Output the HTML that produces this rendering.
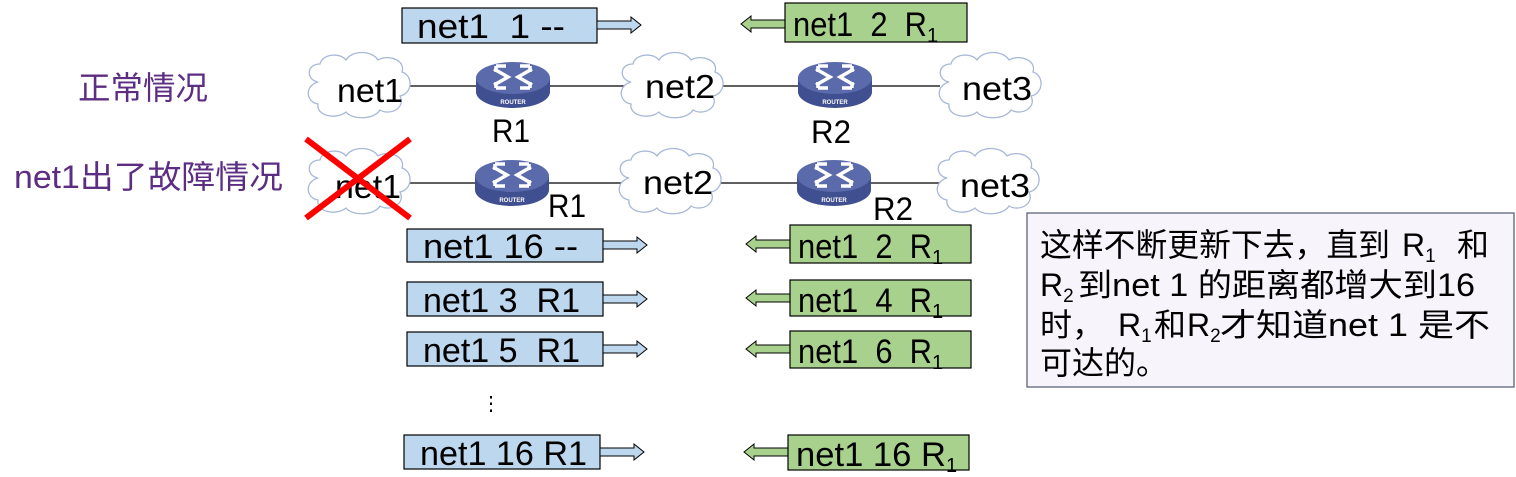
<!DOCTYPE html>
<html><head><meta charset="utf-8"><style>
html,body{margin:0;padding:0;background:#fff;}
svg{display:block;}
text{font-family:"Liberation Sans","Noto Sans CJK SC",sans-serif;}
</style></head><body>
<svg width="1516" height="477" viewBox="0 0 1516 477" xmlns="http://www.w3.org/2000/svg">
<defs>
<g id="cloud">
<path d="M12,28 C0,26 0,10 14,10 C16,0 34,-2 40,6 C46,-4 66,-4 72,6 C82,0 100,6 96,18 C108,22 106,40 94,42 C100,54 84,62 74,56 C68,66 46,66 40,58 C30,66 10,62 12,50 C0,48 -2,32 12,28 Z" fill="#fff" stroke="#a8b8d8" stroke-width="1.3"/>
</g>
<g id="router">
<path d="M0,18 L0,32 A37,16 0 0 0 74,32 L74,18 Z" fill="#3f4f8f"/>
<ellipse cx="37" cy="18" rx="37" ry="16" fill="#5a6aaa"/>
<g stroke="#fff" stroke-width="3.5" fill="none">
<path d="M18,9 L32,17 L18,25"/><path d="M56,9 L42,17 L56,25"/>
<path d="M20,6 L30,6 M20,6 L20,12"/><path d="M54,6 L44,6 M54,6 L54,12"/>
<path d="M20,28 L30,28 M20,28 L20,22"/><path d="M54,28 L44,28 M54,28 L54,22"/>
</g>
<text x="37" y="44" font-size="6" font-weight="bold" fill="#fff" text-anchor="middle">ROUTER</text>
</g>
<g id="rarrow"><path d="M0,-4 L34,-4 L34,-8 L44,0 L34,8 L34,4 L0,4 Z" fill="#bdd7ee" stroke="#000" stroke-width="1"/></g>
<g id="larrow"><path d="M0,-4 L-34,-4 L-34,-8 L-44,0 L-34,8 L-34,4 L0,4 Z" fill="#a9d18e" stroke="#000" stroke-width="1"/></g>
</defs>

<rect x="402" y="8" width="195" height="35" fill="#bdd7ee" stroke="#000" stroke-width="1.2"/>
<text x="417" y="38" font-size="34" textLength="148" lengthAdjust="spacingAndGlyphs">net1&#160;&#160;1 --</text>
<use href="#rarrow" x="597" y="25"/>
<use href="#larrow" x="785" y="24"/>
<rect x="785" y="3" width="182" height="39" fill="#a9d18e" stroke="#000" stroke-width="1.2"/>
<text x="793" y="36" font-size="34"><tspan textLength="134" lengthAdjust="spacingAndGlyphs">net1&#160;&#160;2&#160;&#160;R</tspan><tspan font-size="20" dy="6">1</tspan></text>

<text x="78" y="99" font-size="32" fill="#5c2d82" textLength="130" lengthAdjust="spacingAndGlyphs">正常情况</text>
<text x="14" y="188" font-size="32" fill="#5c2d82" textLength="269" lengthAdjust="spacingAndGlyphs">net1出了故障情况</text>

<line x1="405" y1="86" x2="940" y2="86" stroke="#000" stroke-width="1.2"/>
<use href="#cloud" x="306" y="54"/>
<text x="337" y="102" font-size="33" textLength="66" lengthAdjust="spacingAndGlyphs">net1</text>
<use href="#router" x="476" y="60"/>
<text x="492" y="142" font-size="32" textLength="38" lengthAdjust="spacingAndGlyphs">R1</text>
<use href="#cloud" x="619" y="54"/>
<text x="645" y="98" font-size="33" textLength="70" lengthAdjust="spacingAndGlyphs">net2</text>
<use href="#router" x="798" y="60"/>
<text x="811" y="143" font-size="32" textLength="40" lengthAdjust="spacingAndGlyphs">R2</text>
<use href="#cloud" x="937" y="54"/>
<text x="962" y="100" font-size="33" textLength="70" lengthAdjust="spacingAndGlyphs">net3</text>

<line x1="405" y1="183" x2="940" y2="183" stroke="#000" stroke-width="1.2"/>
<use href="#cloud" x="306" y="150"/>
<text x="335" y="198" font-size="33" textLength="66" lengthAdjust="spacingAndGlyphs">net1</text>
<use href="#router" x="475" y="158"/>
<text x="548" y="217" font-size="32" textLength="38" lengthAdjust="spacingAndGlyphs">R1</text>
<use href="#cloud" x="617" y="150"/>
<text x="643" y="194" font-size="33" textLength="70" lengthAdjust="spacingAndGlyphs">net2</text>
<use href="#router" x="797" y="158"/>
<text x="873" y="220" font-size="32" textLength="40" lengthAdjust="spacingAndGlyphs">R2</text>
<use href="#cloud" x="935" y="150"/>
<text x="960" y="197" font-size="33" textLength="70" lengthAdjust="spacingAndGlyphs">net3</text>
<g stroke="#ff0000" stroke-width="6">
<line x1="306" y1="139" x2="410" y2="218"/><line x1="410" y1="139" x2="306" y2="218"/>
</g>

<g font-size="34">
<rect x="407" y="229" width="196" height="33" fill="#bdd7ee" stroke="#000" stroke-width="1.2"/>
<text x="423" y="258" textLength="155" lengthAdjust="spacingAndGlyphs">net1 16 --</text>
<use href="#rarrow" x="603" y="245"/>
<rect x="407" y="282" width="196" height="34" fill="#bdd7ee" stroke="#000" stroke-width="1.2"/>
<text x="423" y="312" textLength="157" lengthAdjust="spacingAndGlyphs">net1 3&#160;&#160;R1</text>
<use href="#rarrow" x="603" y="299"/>
<rect x="407" y="332" width="196" height="34" fill="#bdd7ee" stroke="#000" stroke-width="1.2"/>
<text x="423" y="362" textLength="157" lengthAdjust="spacingAndGlyphs">net1 5&#160;&#160;R1</text>
<use href="#rarrow" x="603" y="349"/>
<rect x="404" y="435" width="196" height="34" fill="#bdd7ee" stroke="#000" stroke-width="1.2"/>
<text x="420" y="465" textLength="167" lengthAdjust="spacingAndGlyphs">net1&#160;16 R1</text>
<use href="#rarrow" x="600" y="452"/>
<text x="481" y="410" font-size="20">⋮</text>

<use href="#larrow" x="790" y="244"/>
<rect x="790" y="225" width="181" height="38" fill="#a9d18e" stroke="#000" stroke-width="1.2"/>
<text x="798" y="258"><tspan textLength="134" lengthAdjust="spacingAndGlyphs">net1&#160;&#160;2&#160;&#160;R</tspan><tspan font-size="20" dy="6">1</tspan></text>
<use href="#larrow" x="790" y="298"/>
<rect x="790" y="280" width="181" height="36" fill="#a9d18e" stroke="#000" stroke-width="1.2"/>
<text x="798" y="312"><tspan textLength="134" lengthAdjust="spacingAndGlyphs">net1&#160;&#160;4&#160;&#160;R</tspan><tspan font-size="20" dy="6">1</tspan></text>
<use href="#larrow" x="790" y="349"/>
<rect x="790" y="331" width="181" height="37" fill="#a9d18e" stroke="#000" stroke-width="1.2"/>
<text x="798" y="363"><tspan textLength="134" lengthAdjust="spacingAndGlyphs">net1&#160;&#160;6&#160;&#160;R</tspan><tspan font-size="20" dy="6">1</tspan></text>
<use href="#larrow" x="788" y="452"/>
<rect x="788" y="435" width="181" height="35" fill="#a9d18e" stroke="#000" stroke-width="1.2"/>
<text x="796" y="466"><tspan textLength="150" lengthAdjust="spacingAndGlyphs">net1&#160;16 R</tspan><tspan font-size="20" dy="6">1</tspan></text>
</g>

<rect x="1027" y="213" width="487" height="174" fill="#f8f4fc" stroke="#5a6478" stroke-width="1.3"/>
<g font-size="32">
<text y="256"><tspan x="1040" textLength="350" lengthAdjust="spacingAndGlyphs">这样不断更新下去，直到</tspan><tspan x="1402">R</tspan><tspan font-size="19" dy="6">1</tspan><tspan x="1457" dy="-6">和</tspan></text>
<text y="296"><tspan x="1040">R</tspan><tspan font-size="19" dy="6">2</tspan><tspan x="1078" dy="-6" textLength="397" lengthAdjust="spacingAndGlyphs">到net 1 的距离都增大到16</tspan></text>
<text y="336"><tspan x="1040">时，</tspan><tspan x="1118">R</tspan><tspan font-size="19" dy="6">1</tspan><tspan x="1154" dy="-6">和</tspan><tspan x="1187">R</tspan><tspan font-size="19" dy="6">2</tspan><tspan x="1220" dy="-6" textLength="270" lengthAdjust="spacingAndGlyphs">才知道net 1 是不</tspan></text>
<text x="1040" y="374">可达的。</text>
</g>
</svg>
</body></html>
